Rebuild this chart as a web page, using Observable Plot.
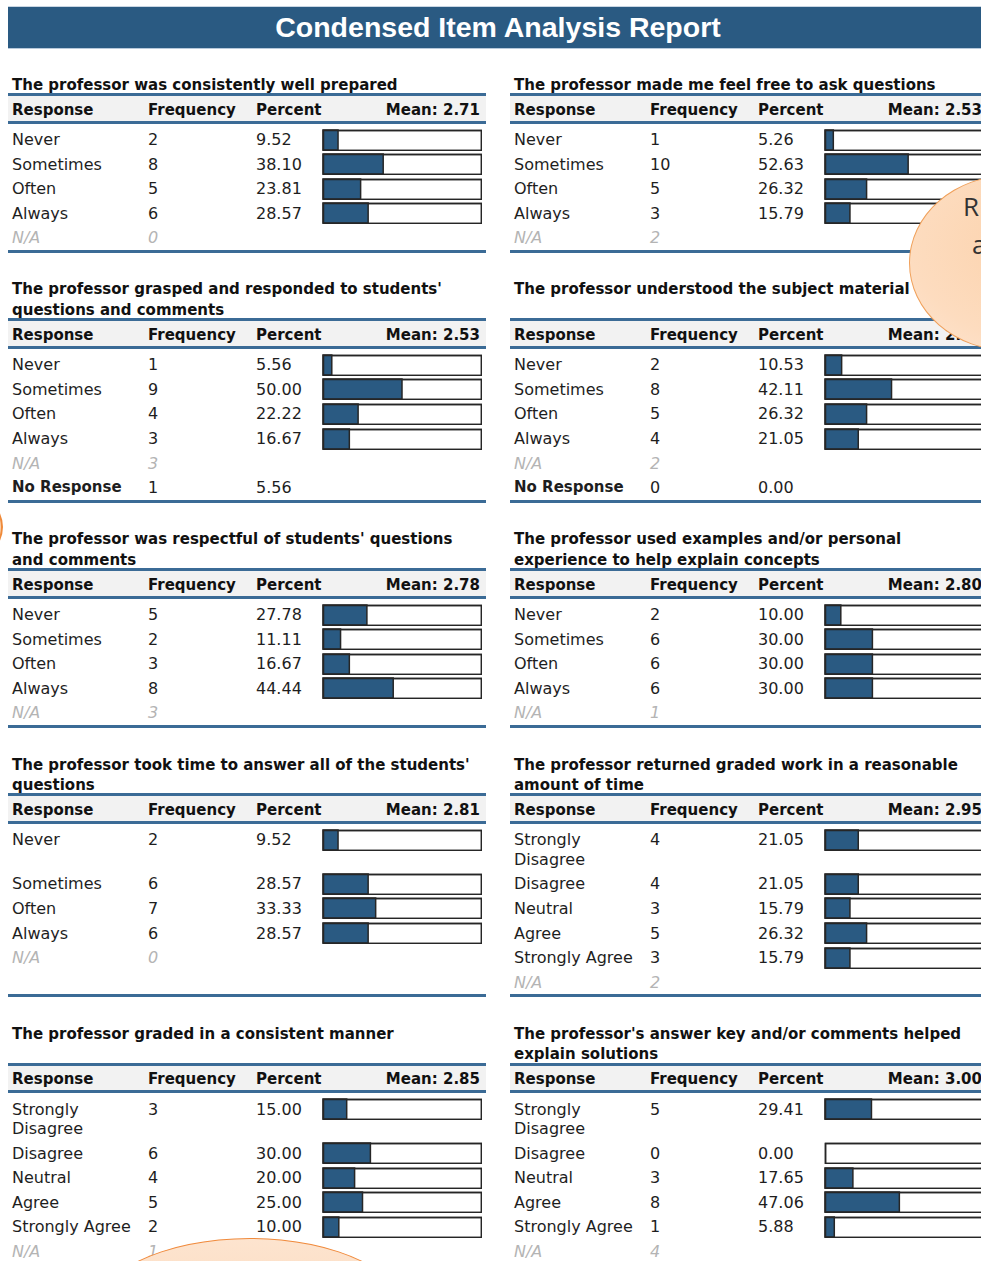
<!DOCTYPE html>
<html><head><meta charset="utf-8">
<script src="https://cdn.jsdelivr.net/npm/d3@7"></script>
<script src="https://cdn.jsdelivr.net/npm/@observablehq/plot@0.6"></script>
<style>
html,body{margin:0;padding:0;background:#fff;}
body{width:981px;height:1261px;overflow:hidden;position:relative;font-family:"DejaVu Sans",sans-serif;color:#1e1e1e;}
#banner{position:absolute;left:8px;top:7px;width:980px;height:41px;background:#2a5a82;color:#fff;font:bold 28.5px "Liberation Sans",Arial,sans-serif;text-align:center;line-height:41px;box-shadow:0 1px 0 #b7c9db,0 -1px 0 #c9d6e3;}
#bands{position:absolute;left:8px;top:74.75px;}
.band{display:grid;grid-template-columns:136px 108px 67px 167px 24px 136px 108px 67px 167px;margin-bottom:26.5px;}
.title{font-weight:bold;font-size:15px;line-height:20.5px;white-space:pre;padding-left:4px;color:#111;}
.hdr{margin-top:-2.25px;border-top:3px solid #3b6b96;border-bottom:3px solid #3b6b96;background:#f2f2f2;height:24.5px;display:grid;grid-template-columns:136px 108px 67px 167px;font-weight:bold;font-size:15px;line-height:24.5px;color:#111;white-space:nowrap;}
.hdr div{padding-left:4px;position:relative;top:1.5px;}
.hdr .mean{text-align:right;padding-right:6px;}
.spacer{height:1.5px;}
.cell{box-sizing:border-box;min-height:24.6px;padding:5px 0 0.1px 4px;line-height:19.5px;font-size:16px;white-space:normal;}
.num{white-space:nowrap;}
.na{font-style:italic;color:#b4b4b4;}
.nr{font-weight:bold;font-size:15px;}
.barcell{position:relative;}
.barcell svg{position:absolute;left:3px;top:3.5px;}
.foot{margin-top:2px;border-top:3px solid #3b6b96;}
.callout{position:absolute;border-radius:50%;z-index:5;box-sizing:border-box;}
.ctext{position:absolute;z-index:6;font:26px "Open Sans",sans-serif;color:#333;line-height:1;}
</style></head>
<body>
<div id="banner"></div>
<div id="bands"></div>
<div class="callout" style="left:909px;top:175px;width:202px;height:176px;border:1.5px solid #f0a05a;background:radial-gradient(ellipse at 80% 40%,#fbcfa6 0%,#fddcbf 70%,#fee6d2 100%);"></div>
<div class="ctext" style="left:963px;top:193px;">R</div>
<div class="ctext" style="left:972px;top:231px;">a</div>
<div class="callout" style="left:-123px;top:482px;width:126px;height:90px;border:2.5px solid #ef8a3a;background:#fbd3ae;"></div>
<div class="callout" style="left:90px;top:1238px;width:320px;height:160px;border:1.5px solid #f08a3c;background:linear-gradient(#fde4cf,#fcd3b0);"></div>
<script>
const reportTitle = "Condensed Item Analysis Report";
const headerLabels = ["Response", "Frequency", "Percent", "Mean: "];
const frequencyScale = ["Never", "Sometimes", "Often", "Always"];
const agreementScale = ["Strongly Disagree", "Disagree", "Neutral", "Agree", "Strongly Agree"];
const naLabel = "N/A";
const noResponseLabel = "No Response";

const itemTitles = [
  "The professor was consistently well prepared",
  "The professor made me feel free to ask questions",
  "The professor grasped and responded to students'\nquestions and comments",
  "The professor understood the subject material",
  "The professor was respectful of students' questions\nand comments",
  "The professor used examples and/or personal\nexperience to help explain concepts",
  "The professor took time to answer all of the students'\nquestions",
  "The professor returned graded work in a reasonable\namount of time",
  "The professor graded in a consistent manner",
  "The professor's answer key and/or comments helped\nexplain solutions"
];
const itemScales = ["freq","freq","freq","freq","freq","freq","freq","agree","agree","agree"];
const itemCounts = [
  [2, 8, 5, 6],
  [1, 10, 5, 3],
  [1, 9, 4, 3],
  [2, 8, 5, 4],
  [5, 2, 3, 8],
  [2, 6, 6, 6],
  [2, 6, 7, 6],
  [4, 4, 3, 5, 3],
  [3, 6, 4, 5, 2],
  [5, 0, 3, 8, 1]
];
const itemPercents = [
  [9.52, 38.10, 23.81, 28.57],
  [5.26, 52.63, 26.32, 15.79],
  [5.56, 50.00, 22.22, 16.67],
  [10.53, 42.11, 26.32, 21.05],
  [27.78, 11.11, 16.67, 44.44],
  [10.00, 30.00, 30.00, 30.00],
  [9.52, 28.57, 33.33, 28.57],
  [21.05, 21.05, 15.79, 26.32, 15.79],
  [15.00, 30.00, 20.00, 25.00, 10.00],
  [29.41, 0.00, 17.65, 47.06, 5.88]
];
const itemNA = [0, 2, 3, 2, 3, 1, 0, 2, 1, 4];
const noResponseCounts = [null, null, 1, 0, null, null, null, null, null, null];
const noResponsePercents = [null, null, 5.56, 0.00, null, null, null, null, null, null];
const itemMeans = [2.71, 2.53, 2.53, 2.58, 2.78, 2.80, 2.81, 2.95, 2.85, 3.00];

const barFill = "#2a5a82", barStroke = "#262626";

document.getElementById("banner").textContent = reportTitle;

function el(parent, cls, text, row, col, span) {
  const d = document.createElement("div");
  if (cls) d.className = cls;
  if (text != null) d.textContent = text;
  d.style.gridRow = String(row);
  d.style.gridColumn = span ? `${col} / span ${span}` : String(col);
  parent.appendChild(d);
  return d;
}

function bar(p) {
  return Plot.plot({
    width: 160, height: 22,
    marginTop: 1, marginBottom: 1, marginLeft: 1, marginRight: 1,
    x: {domain: [0, 100], axis: null},
    marks: [
      Plot.frame({fill: "#fff", stroke: barStroke, strokeWidth: 1.5}),
      Plot.barX([p], {x: d => d, fill: barFill, stroke: p > 0 ? barStroke : "none", strokeWidth: 1.5}),
      Plot.frame({stroke: barStroke, strokeWidth: 1.5})
    ]
  });
}

const bandsEl = document.getElementById("bands");
for (let b = 0; b < itemTitles.length / 2; b++) {
  const band = document.createElement("div");
  band.className = "band";
  bandsEl.appendChild(band);
  const sides = [2 * b, 2 * b + 1];
  const rowsBySide = sides.map(k => {
    const labels = itemScales[k] === "agree" ? agreementScale : frequencyScale;
    const rows = labels.map((l, i) => ({kind: "data", label: l, n: itemCounts[k][i], p: itemPercents[k][i]}));
    rows.push({kind: "na", label: naLabel, n: itemNA[k]});
    if (noResponseCounts[k] != null) rows.push({kind: "nr", label: noResponseLabel, n: noResponseCounts[k], p: noResponsePercents[k]});
    return rows;
  });
  const nRows = Math.max(...rowsBySide.map(r => r.length));
  el(band, "spacer", null, 3, 1, 9);
  sides.forEach((k, s) => {
    const c0 = s * 5 + 1;
    el(band, "title", itemTitles[k], 1, c0, 4);
    const h = el(band, "hdr", null, 2, c0, 4);
    headerLabels.forEach((t, i) => {
      const d = document.createElement("div");
      d.textContent = i === 3 ? t + itemMeans[k].toFixed(2) : t;
      if (i === 3) d.className = "mean";
      h.appendChild(d);
    });
    rowsBySide[s].forEach((r, i) => {
      const row = 4 + i;
      el(band, "cell" + (r.kind === "na" ? " na" : r.kind === "nr" ? " nr" : ""), r.label, row, c0);
      el(band, "cell num" + (r.kind === "na" ? " na" : ""), String(r.n), row, c0 + 1);
      el(band, "cell num", r.kind === "na" ? "" : r.p.toFixed(2), row, c0 + 2);
      const bc = el(band, "barcell", null, row, c0 + 3);
      if (r.kind === "data") bc.appendChild(bar(r.p));
    });
    el(band, "foot", null, 4 + nRows, c0, 4);
  });
}
</script>
</body></html>
